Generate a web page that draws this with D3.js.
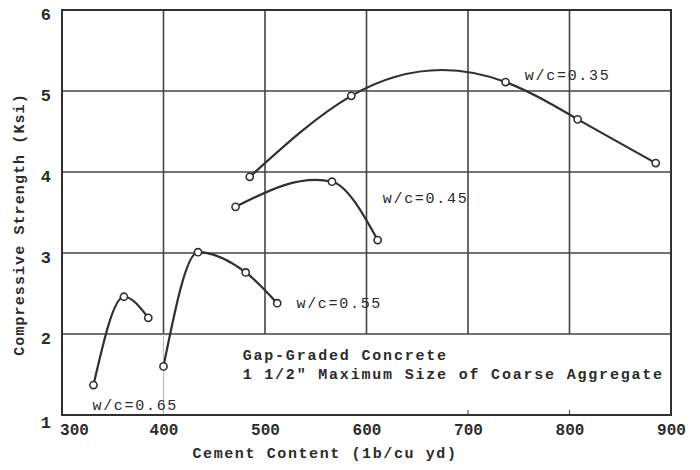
<!DOCTYPE html>
<html>
<head>
<meta charset="utf-8">
<script src="https://cdn.jsdelivr.net/npm/d3@7"></script>
<style>
  html, body { margin: 0; padding: 0; background: #fff; }
  svg text { font-family: "Liberation Mono", "DejaVu Sans Mono", monospace; fill: #2b2b2b; }
</style>
</head>
<body>
<svg id="chart" width="700" height="470"></svg>
<script>
// Compressive strength vs cement content, one series per water/cement ratio
const cement035 = [485, 585, 737, 808, 885];
const strength035 = [3.94, 4.94, 5.11, 4.65, 4.11];
const cement045 = [471, 566, 611];
const strength045 = [3.57, 3.88, 3.16];
const cement055 = [400, 434, 481, 512];
const strength055 = [1.60, 3.01, 2.76, 2.38];
const cement065 = [331, 361, 385];
const strength065 = [1.37, 2.46, 2.20];

const seriesLabels = ["w/c=0.35", "w/c=0.45", "w/c=0.55", "w/c=0.65"];
const xTicks = [300, 400, 500, 600, 700, 800, 900];
const yTicks = [1, 2, 3, 4, 5, 6];
const xTitle = "Cement Content (1b/cu yd)";
const yTitle = "Compressive Strength (Ksi)";
const noteLines = ["Gap-Graded Concrete", "1 1/2\" Maximum Size of Coarse Aggregate"];

// Smooth curves of y as a function of x, drawn as cubic Hermite segments.
// slopeRule(xs, ys) returns the tangent dy/dx at every point.
function hermiteX(slopeRule) {
  function Curve(context) { this._context = context; }
  Curve.prototype = {
    areaStart() { this._line = 0; },
    areaEnd() { this._line = NaN; },
    lineStart() { this._x = []; this._y = []; },
    point(px, py) { this._x.push(+px); this._y.push(+py); },
    lineEnd() {
      const xs = this._x, ys = this._y, n = xs.length, c = this._context;
      if (!n) return;
      c.moveTo(xs[0], ys[0]);
      if (n === 2) { c.lineTo(xs[1], ys[1]); return; }
      const t = slopeRule(xs, ys);
      for (let i = 0; i < n - 1; i++) {
        const h = xs[i + 1] - xs[i];
        c.bezierCurveTo(xs[i] + h / 3, ys[i] + t[i] * h / 3,
                        xs[i + 1] - h / 3, ys[i + 1] - t[i + 1] * h / 3,
                        xs[i + 1], ys[i + 1]);
      }
    }
  };
  return context => new Curve(context);
}

// natural cubic spline: zero curvature at both ends
const curveNaturalX = hermiteX((xs, ys) => {
  const n = xs.length, h = [], s = [];
  for (let i = 0; i < n - 1; i++) { h.push(xs[i + 1] - xs[i]); s.push((ys[i + 1] - ys[i]) / h[i]); }
  const M = new Array(n).fill(0);
  const m = n - 2, a = [], b = [], cc = [], d = [];
  for (let k = 0; k < m; k++) {
    a.push(h[k]); b.push(2 * (h[k] + h[k + 1])); cc.push(h[k + 1]); d.push(6 * (s[k + 1] - s[k]));
  }
  for (let k = 1; k < m; k++) {
    const w = a[k] / b[k - 1];
    b[k] -= w * cc[k - 1]; d[k] -= w * d[k - 1];
  }
  for (let k = m - 1; k >= 0; k--) {
    M[k + 1] = (d[k] - (k < m - 1 ? cc[k] * M[k + 2] : 0)) / b[k];
  }
  const t = [];
  for (let i = 0; i < n; i++) {
    if (i < n - 1) t.push(s[i] - h[i] * (2 * M[i] + M[i + 1]) / 6);
    else t.push(s[i - 1] + h[i - 1] * (M[i - 1] + 2 * M[i]) / 6);
  }
  return t;
});

// Catmull-Rom style: interior tangent follows the neighbouring points
const curveCatmullX = hermiteX((xs, ys) => {
  const n = xs.length, t = new Array(n);
  for (let i = 1; i < n - 1; i++) t[i] = (ys[i + 1] - ys[i - 1]) / (xs[i + 1] - xs[i - 1]);
  const s0 = (ys[1] - ys[0]) / (xs[1] - xs[0]);
  const s1 = (ys[n - 1] - ys[n - 2]) / (xs[n - 1] - xs[n - 2]);
  t[0] = (3 * s0 - t[1]) / 2;
  t[n - 1] = (3 * s1 - t[n - 2]) / 2;
  return t;
});

const margin = { top: 10, right: 29, bottom: 55, left: 62 };
const W = 700, H = 470;
const svg = d3.select("#chart");
const x = d3.scaleLinear().domain([300, 900]).range([margin.left, W - margin.right]);
const y = d3.scaleLinear().domain([1, 6]).range([H - margin.bottom, margin.top]);

const ink = "#303030";
const grid = svg.append("g");

// horizontal grid lines across the full width
grid.selectAll("line.h").data(yTicks.slice(1, -1)).join("line")
  .attr("x1", x(300)).attr("x2", x(900))
  .attr("y1", d => y(d)).attr("y2", d => y(d))
  .attr("stroke", "#444").attr("stroke-width", 1.6);

// vertical grid lines stop at 2 ksi, leaving room for the note
grid.selectAll("line.v").data(xTicks.slice(1, -1)).join("line")
  .attr("x1", d => x(d)).attr("x2", d => x(d))
  .attr("y1", y(6)).attr("y2", y(2))
  .attr("stroke", "#444").attr("stroke-width", 1.6);

// faint continuation of the 400 line and short ticks on the bottom edge
grid.append("line")
  .attr("x1", x(400)).attr("x2", x(400)).attr("y1", y(2)).attr("y2", y(1))
  .attr("stroke", "#bbb").attr("stroke-width", 1.2);
grid.selectAll("line.t").data([700, 800]).join("line")
  .attr("x1", d => x(d)).attr("x2", d => x(d))
  .attr("y1", y(1)).attr("y2", y(1) - 5)
  .attr("stroke", "#555").attr("stroke-width", 1.2);

// frame
svg.append("rect")
  .attr("x", x(300)).attr("y", y(6))
  .attr("width", x(900) - x(300)).attr("height", y(1) - y(6))
  .attr("fill", "none").attr("stroke", ink).attr("stroke-width", 2);

// x axis labels
const xAxis = svg.append("g")
  .attr("transform", `translate(0,${y(1)})`)
  .call(d3.axisBottom(x).tickValues(xTicks).tickSize(0).tickPadding(9).tickFormat(d3.format("d")));
xAxis.select(".domain").remove();
xAxis.selectAll("text")
  .style("font-size", "16px").style("font-weight", "bold").attr("fill", "#2b2b2b")
  .attr("dx", d => d === 300 ? 12 : 0);

// y axis labels
const yAxis = svg.append("g")
  .attr("transform", `translate(${x(300)},0)`)
  .call(d3.axisLeft(y).tickValues(yTicks).tickSize(0).tickPadding(11).tickFormat(d3.format("d")));
yAxis.select(".domain").remove();
yAxis.selectAll("text")
  .style("font-size", "17px").style("font-weight", "bold").attr("fill", "#2b2b2b")
  .attr("dy", d => d === 1 ? "0.75em" : "0.55em");

// axis titles
svg.append("text")
  .attr("x", 325).attr("y", 458)
  .attr("text-anchor", "middle")
  .style("font-size", "15px").style("font-weight", "bold").style("letter-spacing", "1.6px")
  .text(xTitle);
svg.append("text")
  .attr("transform", `translate(24,${(y(1) + y(6)) / 2 + 12}) rotate(-90)`)
  .attr("text-anchor", "middle")
  .style("font-size", "15px").style("font-weight", "bold").style("letter-spacing", "1.1px")
  .text(yTitle);

// curves and measured points; the 0.35 fit runs straight past 808
const series = [
  { xs: cement035, ys: strength035, curve: curveNaturalX, straightFrom: 3 },
  { xs: cement045, ys: strength045, curve: curveCatmullX },
  { xs: cement055, ys: strength055, curve: d3.curveMonotoneX },
  { xs: cement065, ys: strength065, curve: d3.curveMonotoneX }
];
series.forEach(s => {
  const pts = s.xs.map((v, i) => [v, s.ys[i]]);
  const pieces = s.straightFrom
    ? [[pts.slice(0, s.straightFrom + 1), s.curve], [pts.slice(s.straightFrom), d3.curveLinear]]
    : [[pts, s.curve]];
  pieces.forEach(([seg, c]) => {
    const line = d3.line().x(d => x(d[0])).y(d => y(d[1])).curve(c);
    svg.append("path").datum(seg)
      .attr("d", line).attr("fill", "none")
      .attr("stroke", ink).attr("stroke-width", 2.2);
  });
  svg.append("g").selectAll("circle").data(pts).join("circle")
    .attr("cx", d => x(d[0])).attr("cy", d => y(d[1])).attr("r", 3.6)
    .attr("fill", "#fff").attr("stroke", ink).attr("stroke-width", 1.6);
});

// series labels placed near each curve
const labelAt = [[756, 5.13], [616, 3.62], [531, 2.32], [330, 1.06]];
seriesLabels.forEach((t, i) => {
  svg.append("text")
    .attr("x", x(labelAt[i][0])).attr("y", y(labelAt[i][1]))
    .style("font-size", "15px").style("letter-spacing", "1.7px")
    .text(t);
});

// note inside the lower part of the plot
noteLines.forEach((t, i) => {
  svg.append("text")
    .attr("x", x(478)).attr("y", y(1.68) + i * 19)
    .style("font-size", "15px").style("font-weight", "bold").style("letter-spacing", "1.8px")
    .text(t);
});
</script>
</body>
</html>
